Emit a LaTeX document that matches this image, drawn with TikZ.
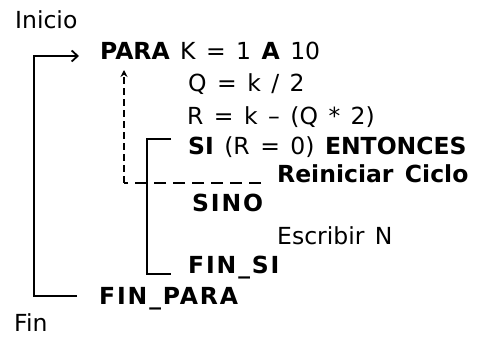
\documentclass[tikz,border=0pt]{standalone}
\usepackage{fontspec}
\setmainfont[WordSpace=1.4]{DejaVu Sans}
\newfontfamily\spacedbold[LetterSpace=8]{DejaVu Sans Bold}
\usetikzlibrary{arrows.meta}
\begin{document}
\begin{tikzpicture}[x=1pt,y=-1pt,
  txt/.style={anchor=base west,inner sep=0pt,font=\fontsize{23.5}{28}\selectfont},
  kw/.style={txt,font=\fontsize{23.5}{28}\spacedbold},
  conn/.style={line width=1.8pt},
  dashv/.style={line width=1.6pt,dash pattern=on 7pt off 4pt},
  dashh/.style={line width=1.6pt,dash pattern=on 12pt off 7pt},
  tip/.style={-{Straight Barb[length=6pt,width=11pt,line width=1.8pt]}}
]
\useasboundingbox (0,0) rectangle (482,339);
\node[txt] (inicio) at (15,29) {Inicio};
\node[txt] (para) at (100,60) {\textbf{PARA} K = 1 \textbf{A} 10};
\node[txt] (q) at (188,92) {Q = k / 2};
\node[txt] (r) at (187,125) {R = k -- (Q * 2)};
\node[txt] (si) at (188,155) {\textbf{SI} (R = 0) \textbf{ENTONCES}};
\node[txt] (rein) at (277,183) {\textbf{Reiniciar Ciclo}};
\node[kw] (sino) at (192,212) {SINO};
\node[txt] (escr) at (277,244) {Escribir N};
\node[kw] (finsi) at (188,273) {FIN\_SI};
\node[kw] (finpara) at (99,304) {FIN\_PARA};
\node[txt] (fin) at (14,331) {Fin};
% outer loop
\coordinate (paraIn) at (79,56);
\coordinate (fpOut) at (77,296);
\coordinate (outerX) at (34,0);
\draw[conn,tip] (fpOut) -- (fpOut -| outerX) -- (outerX |- paraIn) -- (paraIn);
% inner bracket
\coordinate (siIn) at (171,139);
\coordinate (fsIn) at (171,274);
\coordinate (innerX) at (147,0);
\draw[conn] (siIn) -- (siIn -| innerX) -- (innerX |- fsIn) -- (fsIn);
% dashed return
\coordinate (reinOut) at (261,183);
\coordinate (dashX) at (124,0);
\coordinate (dashTip) at (124,70);
\draw[dashh] (reinOut) -- (reinOut -| dashX);
\draw[dashv,-{Stealth[length=7pt,width=7pt]}] (reinOut -| dashX) -- (dashTip);
\end{tikzpicture}
\end{document}
